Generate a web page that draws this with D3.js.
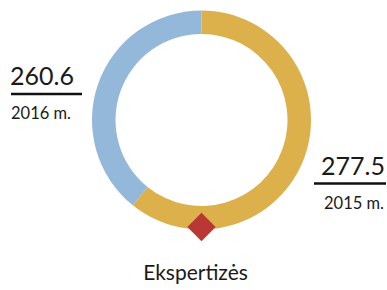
<!doctype html>
<html lang="lt">
<head>
<meta charset="utf-8">
<title>Ekspertizės</title>
<script src="https://cdn.jsdelivr.net/npm/d3@7"></script>
<style>
  body { margin: 0; background: #fff; overflow: hidden; }
  text { font-family: Lato, "Open Sans", sans-serif; fill: #1a1a1a; }
</style>
</head>
<body>
<script>
  // values shown in the labels
  const years = ["2015 m.", "2016 m."]
  const values = [277.5, 260.6]
  // share of the ring each colour takes
  const ringShare = [60.8, 39.2]
  const colors = ["#dcb04a", "#93b8d9"]
  const title = "Ekspertizės"

  const width = 387, height = 290
  const cx = 201.5, cy = 120
  const outerR = 109.5, innerR = 86

  const svg = d3.select("body").append("svg")
    .attr("width", width)
    .attr("height", height)

  const pie = d3.pie().sort(null).value(d => d)
  const arc = d3.arc().innerRadius(innerR).outerRadius(outerR)

  const g = svg.append("g").attr("transform", `translate(${cx},${cy})`)

  g.selectAll("path")
    .data(pie(ringShare))
    .enter().append("path")
    .attr("d", arc)
    .attr("fill", (d, i) => colors[i])

  // marker at the bottom of the ring
  g.append("rect")
    .attr("x", -10).attr("y", -10)
    .attr("width", 20).attr("height", 20)
    .attr("fill", "#b93833")
    .attr("transform", `translate(0,${outerR - 2.5}) rotate(45)`)

  // label placement
  const labelPos = [
    { x1: 314, x2: 386, tx: 385, anchor: "end", ly: 183.5 },
    { x1: 11, x2: 82, tx: 10, anchor: "start", ly: 94 }
  ]

  labelPos.forEach((p, i) => {
    svg.append("text")
      .attr("x", p.tx)
      .attr("y", p.ly - 9)
      .attr("text-anchor", p.anchor)
      .style("font-size", "25px")
      .text(values[i].toFixed(1))
    svg.append("line")
      .attr("x1", p.x1).attr("x2", p.x2)
      .attr("y1", p.ly).attr("y2", p.ly)
      .attr("stroke", "#111")
      .attr("stroke-width", 2.5)
    svg.append("text")
      .attr("x", p.anchor === "end" ? p.tx - 1 : p.tx + 1)
      .attr("y", p.ly + 25)
      .attr("text-anchor", p.anchor)
      .style("font-size", "16.5px")
      .text(years[i])
  })

  svg.append("text")
    .attr("x", 195.5)
    .attr("y", 280)
    .attr("text-anchor", "middle")
    .style("font-size", "21px")
    .text(title)
</script>
</body>
</html>
